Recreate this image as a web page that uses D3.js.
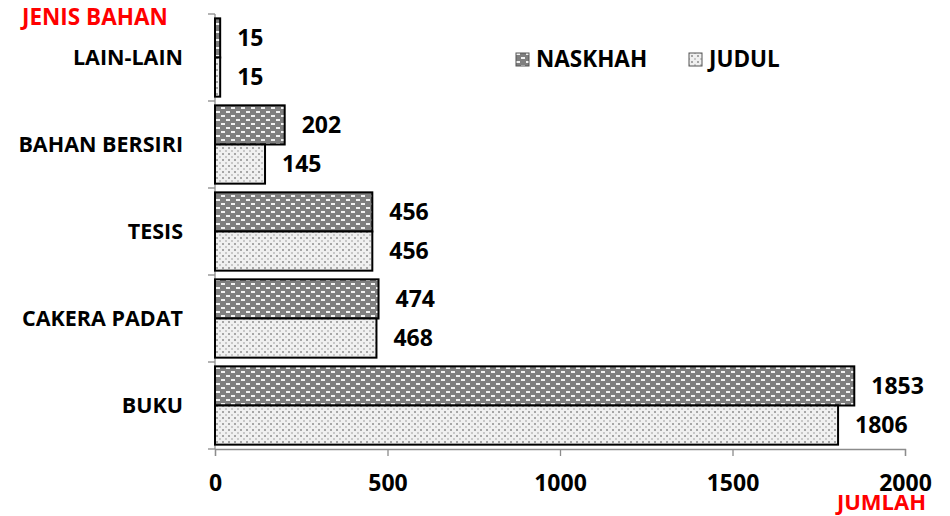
<!DOCTYPE html>
<html>
<head>
<meta charset="utf-8">
<script src="https://cdn.jsdelivr.net/npm/d3@7"></script>
<style>
  body { margin: 0; background: #fff; }
  text { font-family: "Open Sans", "Noto Sans", sans-serif; font-weight: bold; }
</style>
</head>
<body>
<div id="chart"></div>
<script>
// data (top to bottom)
const categories = ['LAIN-LAIN', 'BAHAN BERSIRI', 'TESIS', 'CAKERA PADAT', 'BUKU'];
const naskhah = [15, 202, 456, 474, 1853];
const judul = [15, 145, 456, 468, 1806];
const xTicks = [0, 500, 1000, 1500, 2000];
const seriesNames = ['NASKHAH', 'JUDUL'];

const width = 950;
const height = 516;
const margin = {top: 14, right: 45, bottom: 67, left: 215};
const innerW = width - margin.left - margin.right;
const innerH = height - margin.top - margin.bottom;

const svg = d3.select('#chart')
    .append('svg')
    .attr('width', width)
    .attr('height', height);

// fill patterns
const defs = svg.append('defs');
const pDark = defs.append('pattern')
    .attr('id', 'pat-naskhah')
    .attr('patternUnits', 'userSpaceOnUse')
    .attr('width', 10).attr('height', 8);
pDark.append('rect').attr('width', 10).attr('height', 8).attr('fill', '#7f7f7f');
pDark.append('rect').attr('x', 1).attr('y', 1).attr('width', 4).attr('height', 2)
    .attr('fill', '#f2f2f2');
pDark.append('rect').attr('x', 6).attr('y', 5).attr('width', 4).attr('height', 2)
    .attr('fill', '#f2f2f2');

const pLight = defs.append('pattern')
    .attr('id', 'pat-judul')
    .attr('patternUnits', 'userSpaceOnUse')
    .attr('width', 6).attr('height', 6);
pLight.append('rect').attr('width', 6).attr('height', 6).attr('fill', '#f0f0f0');
pLight.append('rect').attr('x', 1).attr('y', 1).attr('width', 2).attr('height', 2)
    .attr('fill', '#a6a6a6');
pLight.append('rect').attr('x', 4).attr('y', 4).attr('width', 2).attr('height', 2)
    .attr('fill', '#c8c8c8');

const fills = ['url(#pat-naskhah)', 'url(#pat-judul)'];

const g = svg.append('g')
    .attr('transform', 'translate(' + margin.left + ',' + margin.top + ')');

const x = d3.scaleLinear().domain([0, 2000]).range([0, innerW]);
const y = d3.scaleBand().domain(categories).range([0, innerH])
    .paddingInner(0.1).paddingOuter(0.05);
const yBand = d3.scaleBand().domain(categories).range([0, innerH]);
const ySub = d3.scaleBand().domain(seriesNames).range([0, y.bandwidth()]);

// x axis
const xAxis = g.append('g')
    .attr('transform', 'translate(0,' + innerH + ')')
    .call(d3.axisBottom(x).tickValues(xTicks).tickFormat(d3.format('d'))
        .tickSize(7).tickPadding(19));
xAxis.select('.domain').attr('stroke', '#8c8c8c').attr('stroke-width', 1.3);
xAxis.selectAll('.tick line').attr('stroke', '#8c8c8c').attr('stroke-width', 1.3);
xAxis.selectAll('.tick text')
    .attr('font-size', 23).attr('fill', '#000')
    .attr('font-family', '"Open Sans", sans-serif').attr('font-weight', 'bold');

// y axis: ticks at band boundaries
g.append('line')
    .attr('x1', 0).attr('x2', 0).attr('y1', 0).attr('y2', innerH)
    .attr('stroke', '#8c8c8c').attr('stroke-width', 1.3);
const bounds = categories.map((c) => yBand(c)).concat([innerH]);
g.selectAll('.ytick')
    .data(bounds)
    .join('line')
    .attr('x1', -7).attr('x2', 0)
    .attr('y1', (d) => d).attr('y2', (d) => d)
    .attr('stroke', '#8c8c8c').attr('stroke-width', 1.3);

g.selectAll('.cat')
    .data(categories)
    .join('text')
    .attr('x', -32)
    .attr('y', (d) => yBand(d) + yBand.bandwidth() / 2)
    .attr('dy', '0.35em')
    .attr('text-anchor', 'end')
    .attr('font-size', 21.5)
    .text((d) => d);

// bars
const series = [naskhah, judul];
series.forEach((vals, si) => {
  const name = seriesNames[si];
  g.selectAll('.bar-' + si)
      .data(categories)
      .join('rect')
      .attr('x', x(0))
      .attr('y', (d) => y(d) + ySub(name))
      .attr('width', (d, i) => x(vals[i]) - x(0))
      .attr('height', ySub.bandwidth())
      .attr('fill', fills[si])
      .attr('stroke', '#000')
      .attr('stroke-width', 2);

  g.selectAll('.lab-' + si)
      .data(categories)
      .join('text')
      .attr('x', (d, i) => x(vals[i]) + 17)
      .attr('y', (d) => y(d) + ySub(name) + ySub.bandwidth() / 2)
      .attr('dy', '0.35em')
      .attr('font-size', 23)
      .text((d, i) => vals[i]);
});

// legend
const legendX = [516, 689];
seriesNames.forEach((name, i) => {
  svg.append('rect')
      .attr('x', legendX[i]).attr('y', 53)
      .attr('width', 13).attr('height', 13)
      .attr('fill', fills[i])
      .attr('stroke', '#555').attr('stroke-width', 1);
  svg.append('text')
      .attr('x', legendX[i] + 20).attr('y', 59)
      .attr('dy', '0.35em')
      .attr('font-size', 22.5)
      .text(name);
});

// axis titles
svg.append('text')
    .attr('x', 22).attr('y', 17).attr('dy', '0.35em')
    .attr('font-size', 22.5).attr('fill', '#ff0000')
    .text('JENIS BAHAN');
svg.append('text')
    .attr('x', 926).attr('y', 502).attr('dy', '0.35em')
    .attr('text-anchor', 'end')
    .attr('font-size', 22).attr('fill', '#ff0000')
    .text('JUMLAH');
</script>
</body>
</html>
